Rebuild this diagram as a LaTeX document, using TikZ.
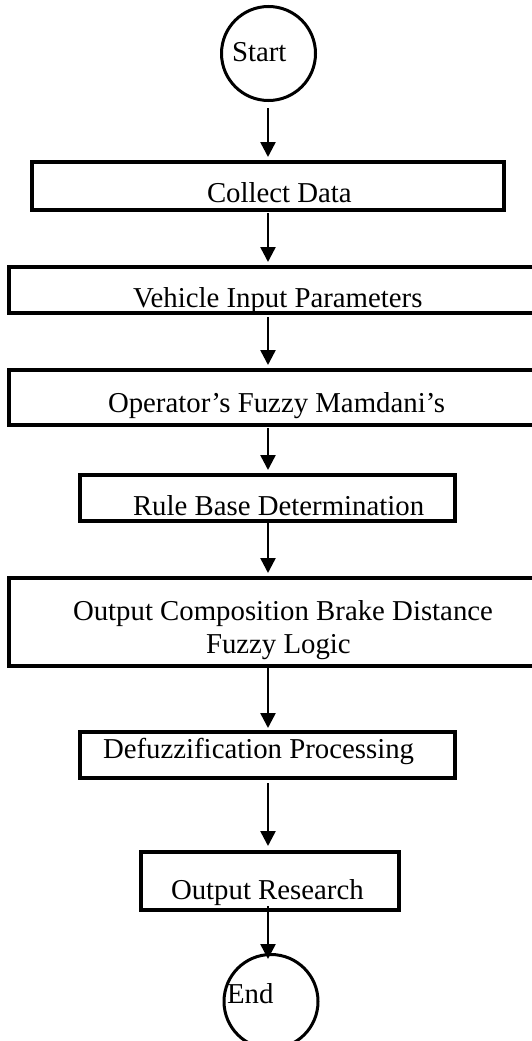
\documentclass[tikz,border=0pt]{standalone}
\usepackage{fontspec}
\setmainfont{Liberation Serif}
\usetikzlibrary{arrows.meta}
\tikzset{
  boxnode/.style={draw, rectangle, line width=3.8pt, inner sep=0pt, outer sep=0pt},
  term/.style={draw, circle, line width=3pt, inner sep=0pt, outer sep=0pt, minimum size=94pt},
  flow/.style={line width=2.5pt, -{Triangle[width=15pt,length=15pt]}},
  lbl/.style={anchor=base west, inner sep=0pt, outer sep=0pt, font=\fontsize{28.8}{33}\selectfont}
}
\begin{document}
\begin{tikzpicture}[x=1pt,y=-1pt]
\useasboundingbox (0,0) rectangle (532,1041);
\clip (0,0) rectangle (532,1041);
\fill[white] (0,0) rectangle (532,1041);
\coordinate (ax) at (268,0);
% shapes
\node[term] (start) at (268.5,53.5) {};
\node[boxnode, minimum width=472.2pt, minimum height=48.2pt] (cd) at (268,186) {};
\node[boxnode, minimum width=534.2pt, minimum height=46.2pt] (veh) at (276,290) {};
\node[boxnode, minimum width=534.2pt, minimum height=55.2pt] (op) at (276,397.5) {};
\node[boxnode, minimum width=375.2pt, minimum height=46.2pt] (rule) at (267.5,498) {};
\node[boxnode, minimum width=534.2pt, minimum height=88.2pt] (comp) at (276,622) {};
\node[boxnode, minimum width=375.2pt, minimum height=46.2pt] (defz) at (267.5,755) {};
\node[boxnode, minimum width=258.2pt, minimum height=58.2pt] (res) at (270,881) {};
\node[term] (end) at (271,1001.5) {};
% texts
\node[lbl] (tstart) at (232,62) {Start};
\node[lbl] (tcd) at (207,202) {Collect Data};
\node[lbl] (tveh) at (133,307) {Vehicle Input Parameters};
\node[lbl] (top) at (108,412) {Operator’s Fuzzy Mamdani’s};
\node[lbl] (trule) at (133,515) {Rule Base Determination};
\node[lbl] (tcomp1) at (73,620) {Output Composition Brake Distance};
\node[lbl] (tcomp2) at (206,653) {Fuzzy Logic};
\node[lbl] (tdefz) at (103,758) {Defuzzification Processing};
\node[lbl] (tres) at (171,899) {Output Research};
\node[lbl] (tend) at (227,1003) {End};
% connectors
\draw[flow, shorten <=7.5pt, shorten >=4.9pt] (ax |- start.south) -- (ax |- cd.north);
\draw[flow, shorten <=2.9pt, shorten >=4.9pt] (ax |- cd.south) -- (ax |- veh.north);
\draw[flow, shorten <=3.9pt, shorten >=4.9pt] (ax |- veh.south) -- (ax |- op.north);
\draw[flow, shorten <=2.9pt, shorten >=4.9pt] (ax |- op.south) -- (ax |- rule.north);
\draw[flow, shorten <=1.9pt, shorten >=4.9pt] (ax |- rule.south) -- (ax |- comp.north);
\draw[flow, shorten <=-1.1pt, shorten >=3.9pt] (ax |- comp.south) -- (ax |- defz.north);
\draw[flow, shorten <=4.9pt, shorten >=5.9pt] (ax |- defz.south) -- (ax |- res.north);
\draw[flow, shorten <=-4.1pt, shorten >=-4.5pt] (ax |- res.south) -- (ax |- end.north);
\end{tikzpicture}
\end{document}
